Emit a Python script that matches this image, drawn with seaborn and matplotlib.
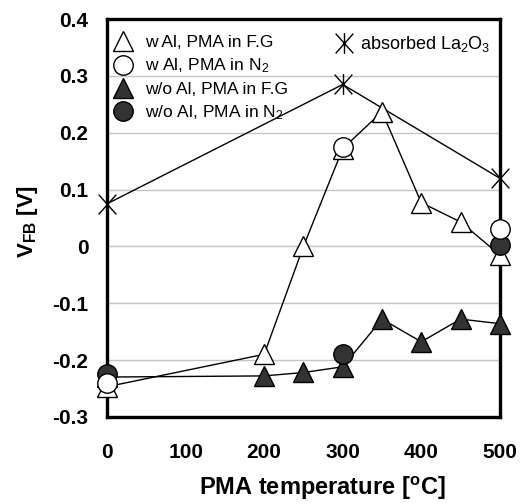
import matplotlib
matplotlib.use("Agg")
import matplotlib.pyplot as plt
import seaborn as sns
import pandas as pd
from matplotlib.lines import Line2D
from matplotlib.path import Path

temp_fg = [0, 200, 250, 300, 350, 400, 450, 500]
wAl_fg = [-0.247, -0.19, 0.0, 0.172, 0.237, 0.077, 0.043, -0.015]
woAl_fg = [-0.23, -0.228, -0.222, -0.212, -0.128, -0.168, -0.128, -0.136]
temp_n2 = [0, 300, 500]
wAl_n2 = [-0.24, 0.175, 0.03]
woAl_n2 = [-0.225, -0.19, 0.002]
temp_abs = [0, 300, 500]
absorbed = [0.075, 0.285, 0.12]

xticks = [0, 100, 200, 300, 400, 500]
yticks = [-0.3, -0.2, -0.1, 0, 0.1, 0.2, 0.3, 0.4]
ytick_labels = ["-0.3", "-0.2", "-0.1", "0", "0.1", "0.2", "0.3", "0.4"]

sns.set_style("white")
plt.rcParams["font.family"] = ["Liberation Sans", "DejaVu Sans"]
plt.rcParams["mathtext.fontset"] = "custom"
plt.rcParams["mathtext.rm"] = "Liberation Sans"
plt.rcParams["mathtext.it"] = "Liberation Sans:italic"
plt.rcParams["mathtext.bf"] = "Liberation Sans:bold"
for key in ["text.color", "axes.labelcolor", "xtick.color", "ytick.color"]:
    plt.rcParams[key] = "black"

fig = plt.figure(figsize=(5.25, 5.04), dpi=100)
ax = fig.add_axes([0.204, 0.173, 0.748, 0.789])

dark = "#333333"
ms_t = 15
ms_c = 14

# asterisk marker: vertical stroke plus an X
star = Path([(0, -1), (0, 1), (-0.85, -0.95), (0.85, 0.95), (-0.85, 0.95), (0.85, -0.95)],
            [Path.MOVETO, Path.LINETO, Path.MOVETO, Path.LINETO, Path.MOVETO, Path.LINETO])

df_abs = pd.DataFrame({"t": temp_abs, "v": absorbed})
sns.lineplot(data=df_abs, x="t", y="v", ax=ax, color="black", lw=1,
             marker=star, markersize=15, markeredgewidth=1,
             markeredgecolor="black", markerfacecolor="none", clip_on=False, zorder=3)

df_wfg = pd.DataFrame({"t": temp_fg, "v": wAl_fg})
sns.lineplot(data=df_wfg, x="t", y="v", ax=ax, color="black", lw=1,
             marker="^", markersize=ms_t, markerfacecolor="white",
             markeredgecolor="black", markeredgewidth=1, clip_on=False, zorder=4)

df_wofg = pd.DataFrame({"t": temp_fg, "v": woAl_fg})
sns.lineplot(data=df_wofg, x="t", y="v", ax=ax, color="black", lw=1,
             marker="^", markersize=ms_t, markerfacecolor=dark,
             markeredgecolor="black", markeredgewidth=1, clip_on=False, zorder=4)

df_won2 = pd.DataFrame({"t": temp_n2, "v": woAl_n2})
sns.scatterplot(data=df_won2, x="t", y="v", ax=ax, marker="o", s=ms_c**2,
                color=dark, edgecolor="black", linewidth=1, clip_on=False, zorder=5)

df_wn2 = pd.DataFrame({"t": temp_n2, "v": wAl_n2})
sns.scatterplot(data=df_wn2, x="t", y="v", ax=ax, marker="o", s=ms_c**2,
                color="white", edgecolor="black", linewidth=1, clip_on=False, zorder=6)

ax.set_xlim(0, 500)
ax.set_ylim(-0.3, 0.4)
ax.set_xticks(xticks)
ax.set_yticks(yticks)
ax.set_yticklabels(ytick_labels)
ax.grid(axis="y", color="#c4c4c4", lw=1)
ax.set_axisbelow(True)
for s in ax.spines.values():
    s.set_linewidth(2.4)
    s.set_color("black")
    s.set_zorder(2.5)
ax.tick_params(axis="x", direction="in", length=6, width=1.5, pad=19,
               labelsize=15, colors="black")
ax.tick_params(axis="y", length=0, pad=13.5, labelsize=15, colors="black")
for lab in ax.get_xticklabels() + ax.get_yticklabels():
    lab.set_fontweight("bold")

ax.set_xlabel("PMA temperature [$^{\\mathbf{o}}$C]", fontsize=17, fontweight="bold", color="black")
ax.xaxis.set_label_coords(0.547, -0.145)
ax.set_ylabel("V$_{\\mathbf{FB}}$ [V]", fontsize=16, fontweight="bold", color="black")
ax.yaxis.set_label_coords(-0.17, 0.49)

h1 = [
    Line2D([], [], ls="none", marker="^", markersize=ms_t, markerfacecolor="white", markeredgecolor="black"),
    Line2D([], [], ls="none", marker="o", markersize=ms_c, markerfacecolor="white", markeredgecolor="black"),
    Line2D([], [], ls="none", marker="^", markersize=ms_t, markerfacecolor=dark, markeredgecolor="black"),
    Line2D([], [], ls="none", marker="o", markersize=ms_c, markerfacecolor=dark, markeredgecolor="black"),
]
l1 = ["w Al, PMA in F.G", "w Al, PMA in N$_2$", "w/o Al, PMA in F.G", "w/o Al, PMA in N$_2$"]
leg1 = ax.legend(h1, l1, loc="upper left", bbox_to_anchor=(0.0, 0.975), frameon=False,
                 fontsize=12.5, handlelength=1.15, handletextpad=0.7, labelspacing=0.36,
                 borderaxespad=0.0, borderpad=0.36, labelcolor="black")
ax.add_artist(leg1)
h2 = [Line2D([], [], ls="none", marker=star, markersize=15, markeredgecolor="black",
             markerfacecolor="none", markeredgewidth=1)]
ax.legend(h2, ["absorbed La$_2$O$_3$"], loc="upper right", bbox_to_anchor=(1.0, 0.985),
          frameon=False, fontsize=13, handlelength=1.0, handletextpad=0.4,
          borderaxespad=0.0, borderpad=0.5, labelcolor="black")

fig.savefig("out.png", dpi=100)
